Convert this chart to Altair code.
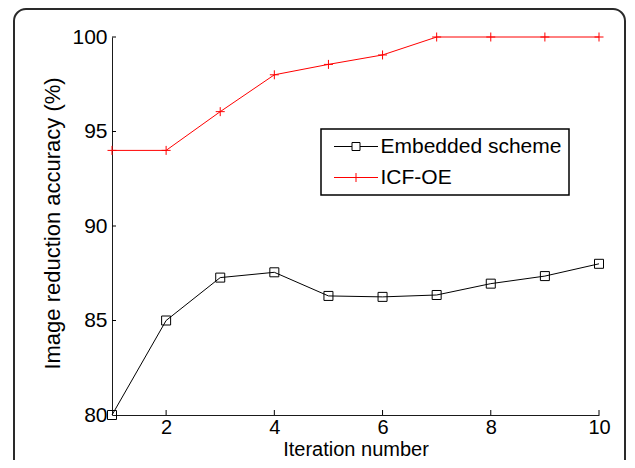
import altair as alt
import pandas as pd

# ---- data ----
iterations = [1, 2, 3, 4, 5, 6, 7, 8, 9, 10]
embedded = [80, 85, 87.27, 87.55, 86.3, 86.25, 86.35, 86.95, 87.35, 88]
icf_oe = [94, 94, 96.05, 98, 98.55, 99.05, 100, 100, 100, 100]
series_names = ["Embedded scheme", "ICF-OE"]
series_colors = ["#000000", "#ff0000"]
x_tick_values = [2, 4, 6, 8, 10]
y_tick_values = [80, 85, 90, 95, 100]
y_inner_ticks = [85, 90, 95, 100]

FONT = "Liberation Sans"
W, H = 487, 378

square_path = "M-1,-1H1V1H-1Z"
plus_path = "M-1,0H1M0,-1V1"
legend_paths = [
    "M-4.4,0H-0.8M0.8,0H4.4M-0.8,-0.8H0.8V0.8H-0.8Z",
    "M-4.4,0H4.4M0,-0.9V0.9",
]

df_emb = pd.DataFrame({"iter": iterations, "val": embedded})
df_icf = pd.DataFrame({"iter": iterations, "val": icf_oe})
df_leg = pd.DataFrame({"series": series_names})
df_xt = pd.DataFrame({"iter": x_tick_values})
df_yt = pd.DataFrame({"val": y_inner_ticks})
df_one = pd.DataFrame({"k": [0]})

xscale = alt.Scale(domain=[1, 10], nice=False, zero=False)
yscale = alt.Scale(domain=[80, 100], nice=False, zero=False)

xaxis = alt.Axis(
    values=x_tick_values, title="Iteration number", grid=False, ticks=False,
    tickSize=0, labelPadding=2.5, labelFlush=False, labelFontSize=20,
    titleFontSize=20, titleY=40.5, titleBaseline="alphabetic",
)
yaxis = alt.Axis(
    values=y_tick_values, title="Image reduction accuracy (%)", grid=False,
    ticks=False, tickSize=0, labelPadding=5, labelFontSize=21,
    titleFontSize=22, titleAngle=270, titleX=-53, titleY=186,
    titleBaseline="alphabetic", titleAlign="center",
)

base_x = alt.X("iter:Q", scale=xscale, axis=xaxis)
base_y = alt.Y("val:Q", scale=yscale, axis=yaxis)

border = alt.Chart(df_one).mark_rect(
    fill=None, stroke="#2a2a2a", strokeWidth=2, cornerRadius=12, clip=False
).encode(
    x=alt.value(-98), x2=alt.value(513), y=alt.value(-28), y2=alt.value(470)
)

line_emb = alt.Chart(df_emb).mark_line(color="black", strokeWidth=1).encode(x=base_x, y=base_y)
line_icf = alt.Chart(df_icf).mark_line(color="red", strokeWidth=1).encode(x=base_x, y=base_y)
pts_emb = alt.Chart(df_emb).mark_point(
    shape=square_path, size=81, filled=False, stroke="black", strokeWidth=1, opacity=1
).encode(x=base_x, y=base_y)
pts_icf = alt.Chart(df_icf).mark_point(
    shape=plus_path, size=81, filled=False, stroke="red", strokeWidth=1, opacity=1
).encode(x=base_x, y=base_y)

xticks = alt.Chart(df_xt).mark_rule(color="black", strokeWidth=1).encode(
    x=base_x, y=alt.value(H), y2=alt.value(H - 5)
)
yticks = alt.Chart(df_yt).mark_rule(color="black", strokeWidth=1).encode(
    y=base_y, x=alt.value(0), x2=alt.value(4)
)

leg = alt.Legend(
    title=None, orient="none", legendX=209, legendY=92, padding=7,
    strokeColor="black", symbolSize=100, symbolStrokeWidth=1,
    symbolOffset=17.5, labelOffset=14, labelFontSize=21, labelFont=FONT,
    labelLimit=400, rowPadding=9, labelColor="black",
)
legend_layer = alt.Chart(df_leg).mark_point(
    filled=False, size=100, strokeWidth=1, opacity=1, clip=True
).encode(
    x=alt.value(-300), y=alt.value(-300),
    color=alt.Color("series:N", scale=alt.Scale(domain=series_names, range=series_colors), legend=leg),
    shape=alt.Shape("series:N", scale=alt.Scale(domain=series_names, range=legend_paths), legend=leg),
)

chart = alt.layer(
    border, line_emb, line_icf, pts_emb, pts_icf, xticks, yticks, legend_layer
).properties(
    width=W, height=H,
    autosize=alt.AutoSizeParams(type="none"),
    padding={"left": 104, "top": 29, "right": 28, "bottom": 45},
).configure_view(stroke=None).configure_axis(
    labelFont=FONT, titleFont=FONT, labelColor="black", titleColor="black",
    domainColor="#1a1a1a", domainWidth=1, titleFontWeight="normal",
).configure_legend(strokeWidth=1.5)

chart.save("out.html", embed_options={"renderer": "svg", "actions": False})
